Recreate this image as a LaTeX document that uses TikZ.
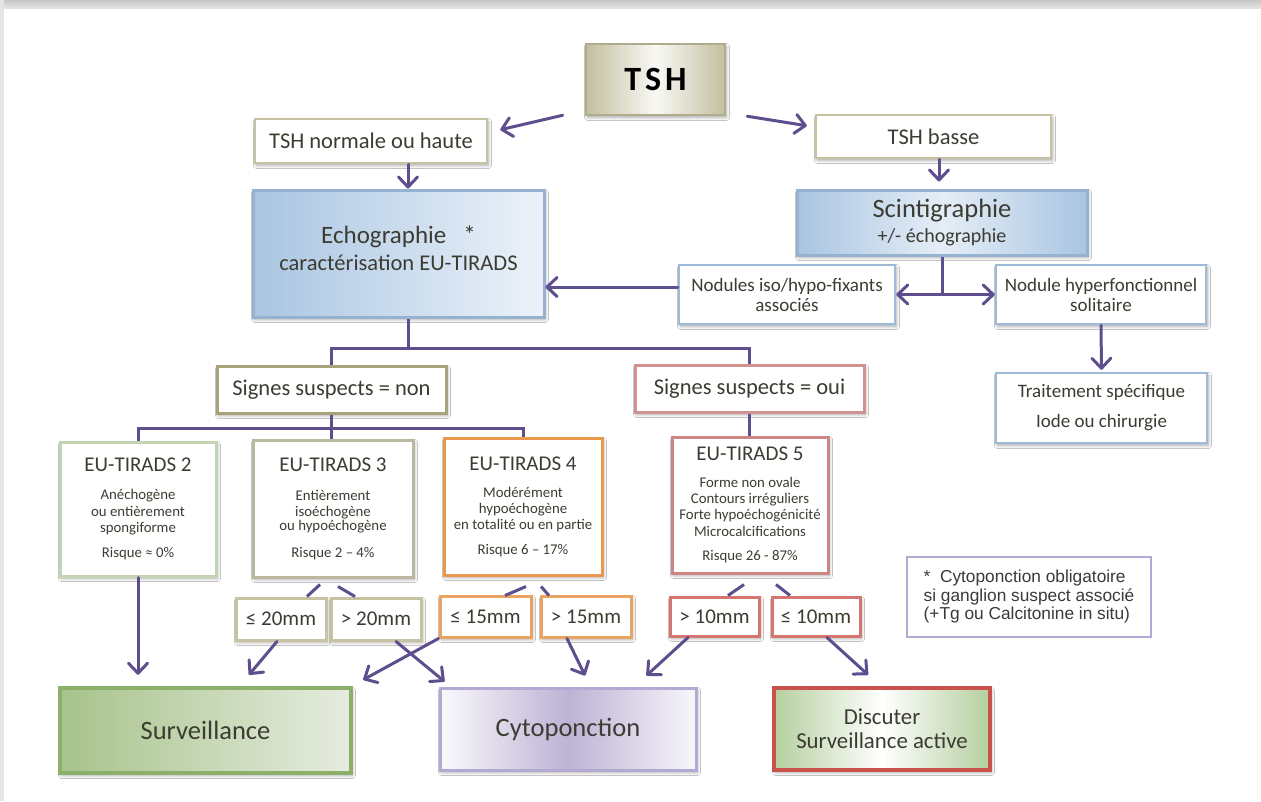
\documentclass[tikz,border=0pt]{standalone}
\usepackage{fontspec}
\setmainfont{Carlito}
\newfontfamily\notefont{Liberation Sans}
\usetikzlibrary{arrows.meta,shadows,shadows.blur,calc}
\definecolor{txtc}{HTML}{3C3C32}
\definecolor{arrc}{HTML}{5E4E8E}
\definecolor{begc}{HTML}{C6C3A0}
\definecolor{tanc}{HTML}{C3BF9E}
\definecolor{bluec}{HTML}{9DBBD9}
\definecolor{bluefill}{HTML}{A9C5E2}
\definecolor{olivec}{HTML}{A7A27A}
\definecolor{pinkc}{HTML}{D29191}
\definecolor{greenc}{HTML}{C3D4B2}
\definecolor{grayolc}{HTML}{BBB8A0}
\definecolor{orangec}{HTML}{E8994E}
\definecolor{redc}{HTML}{CC8686}
\definecolor{dredc}{HTML}{C9524C}
\definecolor{sgreenc}{HTML}{8CAF6A}
\definecolor{svfill}{HTML}{A7C38B}
\definecolor{svfill2}{HTML}{E6ECDF}
\definecolor{dgfill}{HTML}{B5CF9F}
\definecolor{lavc}{HTML}{B3A9D2}
\definecolor{cyfill}{HTML}{BDB3D5}
\definecolor{notetxt}{HTML}{3A3A3A}
\tikzset{
  box/.style={draw, line width=2.5pt, inner sep=0pt, align=center, text=txtc, fill=white,
    blur shadow={shadow xshift=1.5pt, shadow yshift=-2.5pt, shadow blur radius=3pt, shadow blur steps=6, shadow opacity=35}},
  fmain/.style={font=\fontsize{22.5}{27}\selectfont},
  fbody/.style={font=\fontsize{14.8}{16.3}\selectfont},
  fsize/.style={font=\fontsize{21}{25}\selectfont, line width=3pt},
  arr/.style={draw=arrc, line width=3pt, line cap=round, -{Straight Barb[length=10pt,width=19pt,round]}},
  arrtwo/.style={draw=arrc, line width=3pt, line cap=round, {Straight Barb[length=10pt,width=19pt,round]}-{Straight Barb[length=10pt,width=19pt,round]}},
  ln/.style={draw=arrc, line width=3pt},
}
\newcommand{\ttl}[1]{{\fontsize{21}{16.3}\selectfont #1}}
\begin{document}
\begin{tikzpicture}[x=1pt,y=-1pt]
\useasboundingbox (0,0) rectangle (1261,801);
\shade[top color=black!22, bottom color=black!8] (0,0) rectangle (1261,10);
\fill[black!10] (0,0) rectangle (4,801);
\fill[white] (4,9) rectangle (1261,801);

% top
\node[box, draw=tanc!90!black, left color=tanc, right color=tanc, middle color=white!90!tanc,
      minimum width=139, minimum height=71] (tsh) at (655.5,79.5)
      {\fontsize{34}{34}\selectfont\bfseries\color{black}T\kern4pt S\kern4pt H};
\node[box, fmain, draw=begc, minimum width=232, minimum height=44] (tshn) at (371,141) {TSH normale ou haute};
\node[box, fmain, draw=begc, minimum width=235, minimum height=43] (tshb) at (933.5,136.5) {TSH basse};

\node[box, draw=bluec!95!black, line width=3pt, left color=bluefill, right color=bluefill!22,
      minimum width=291, minimum height=127,
      label={[name=echot, fmain, align=center, text=txtc, yshift=5pt]center:{{\fontsize{25}{27}\selectfont Echographie\ \ \ *}\\ caractérisation EU-TIRADS}}] (echo) at (398.5,253.5) {};
\node[box, draw=bluec!95!black, line width=3pt, left color=bluefill, right color=bluefill, middle color=bluefill!30,
      minimum width=290, minimum height=65, font=\fontsize{20}{25}\selectfont] (scint) at (942,222.5)
      {{\fontsize{26.5}{25}\selectfont Scintigraphie}\\ +/- échographie};
\node[box, draw=bluec, font=\fontsize{19}{20}\selectfont, minimum width=216, minimum height=59] (iso) at (787,294.5)
      {Nodules iso/hypo-fixants\\ associés};
\node[box, draw=bluec, font=\fontsize{19}{20}\selectfont, minimum width=210, minimum height=59] (hyper) at (1101,294.5)
      {Nodule hyperfonctionnel\\ solitaire};
\node[box, draw=bluec, font=\fontsize{19}{30}\selectfont, minimum width=211, minimum height=70] (trait) at (1101.5,408)
      {Traitement spécifique\\ Iode ou chirurgie};

% signes
\node[box, fmain, draw=olivec, line width=3pt, minimum width=229, minimum height=47] (non) at (331.5,389.5) {Signes suspects = non};
\node[box, fmain, draw=pinkc, line width=3pt, minimum width=229, minimum height=47] (oui) at (749.5,388.5) {Signes suspects = oui};

% tirads
\node[box, fbody, draw=greenc, line width=3pt, minimum width=156, minimum height=134] (t2) at (138,509)
  {\ttl{EU-TIRADS 2}\\[12pt] Anéchogène\\ ou entièrement\\ spongiforme\\[9pt] Risque ≈ 0\%};
\node[box, fbody, draw=grayolc, line width=3pt, minimum width=160, minimum height=137] (t3) at (333,508.5)
  {\ttl{EU-TIRADS 3}\\[13pt] Entièrement\\ isoéchogène\\[-2pt] ou hypoéchogène\\[10pt] Risque 2 – 4\%};
\node[box, fbody, draw=orangec, line width=3pt, minimum width=158, minimum height=137] (t4) at (523,506.5)
  {\ttl{EU-TIRADS 4}\\[11pt] Modérément\\ hypoéchogène\\ en totalité ou en partie\\[8pt] Risque 6 – 17\%};
\node[box, fbody, draw=redc, line width=3pt, minimum width=156, minimum height=136] (t5) at (750,505)
  {\ttl{EU-TIRADS 5}\\[10pt] Forme non ovale\\ Contours irréguliers\\ Forte hypoéchogénicité\\ Microcalcifications\\[8pt] Risque 26 - 87\%};

% sizes
\node[box, fsize, draw=begc, minimum width=90, minimum height=42] (le20) at (281,619) {≤ 20mm};
\node[box, fsize, draw=begc, minimum width=90, minimum height=42] (gt20) at (376,619) {> 20mm};
\node[box, fsize, draw=orangec!90, minimum width=91, minimum height=41] (le15) at (485.5,616.5) {≤ 15mm};
\node[box, fsize, draw=orangec!90, minimum width=90, minimum height=41] (gt15) at (586,616.5) {> 15mm};
\node[box, fsize, draw=dredc!80, minimum width=89, minimum height=39] (gt10) at (714.5,616.5) {> 10mm};
\node[box, fsize, draw=dredc!80, minimum width=88, minimum height=39] (le10) at (816,616.5) {≤ 10mm};

% outcomes
\node[box, draw=sgreenc, line width=4.5pt, left color=svfill, right color=svfill2,
      font=\fontsize{26.5}{30}\selectfont, minimum width=291, minimum height=85] (surv) at (205.5,730.5) {Surveillance};
\node[box, draw=lavc, line width=3pt, left color=white!92!cyfill, right color=white!88!cyfill, middle color=cyfill,
      font=\fontsize{26.5}{30}\selectfont, minimum width=256, minimum height=82] (cyto) at (568,729) {Cytoponction};
\node[box, draw=dredc, line width=4.5pt, left color=dgfill, right color=dgfill, middle color=white,
      font=\fontsize{22.8}{24}\selectfont, minimum width=216, minimum height=82] (disc) at (882,729) {Discuter\\ Surveillance active};

% note
\node[draw=lavc, line width=2.5pt, inner sep=0pt, fill=white, align=left, text=notetxt,
      font=\notefont\fontsize{17.3}{18.5}\selectfont, minimum width=244, minimum height=80] (note) at (1029,597)
      {*\ \ Cytoponction obligatoire\\ si ganglion suspect associé\\ (+Tg ou Calcitonine in situ)};

% connectors top
\draw[arr] ([shift={(-22,-1)}]tsh.south west) -- ([shift={(12,12)}]tshn.north east);
\draw[arr] ([shift={(21,0)}]tsh.south east) -- ([shift={(-8,12)}]tshb.north west);
\coordinate (e1) at ([xshift=9.5pt]echo.north);
\draw[arr] (e1 |- tshn.south) -- (e1);
\draw[arr] ([xshift=5.5pt]tshb.south) -- ([shift={(-3,-7)}]scint.north);
\draw[ln] (scint.south) -- (scint.south |- iso.east);
\draw[arrtwo] (iso.east) -- (hyper.west);
\coordinate (i1) at ([shift={(0,-7.5)}]iso.west);
\draw[arr] (i1) -- (i1 -| echo.east);
\draw[arr] (hyper.south) -- ([shift={(0,-2)}]trait.north);

% tree
\coordinate (e2) at ([xshift=9.5pt]echo.south);
\draw[ln] (e2) -- ++(0,30) coordinate (j1);
\draw[ln] (non.north) |- (j1) -| (oui.north);
\draw[ln] (non.south) -- ++(0,14) coordinate (j2);
\draw[ln] (t2.north) |- (j2) -| (t4.north);
\draw[ln] (j2) -- (j2 |- t3.north);
\draw[ln] (oui.south) -- (oui.south |- t5.north);

% bottom
\coordinate (s1) at (t2.south |- surv.north);
\draw[arr] (t2.south) -- ([shift={(0,-11)}]s1);
\draw[ln] ([shift={(-13,6)}]t3.south) -- ([shift={(26,0)}]le20.north);
\draw[ln] ([shift={(5,8)}]t3.south) -- ([shift={(-21,0)}]gt20.north);
\draw[arr] ([shift={(-4,0)}]le20.south) -- ([shift={(43.5,-11)}]surv.north);
\draw[arr] ([shift={(20,0)}]gt20.south) -- ([shift={(6,-5)}]cyto.north west);
\draw[ln] ([shift={(3,10)}]t4.south) -- ([shift={(19.5,1)}]le15.north);
\draw[ln] ([shift={(18,10)}]t4.south) -- ([shift={(-37,1)}]gt15.north);
\draw[arr] (le15.south west) -- ([shift={(10,-6)}]surv.north east);
\draw[arr] ([shift={(-19,0)}]gt15.south) -- ([shift={(17,-11)}]cyto.north);
\draw[ln] ([shift={(-6,10)}]t5.south) -- ([shift={(13.5,0)}]gt10.north);
\draw[ln] ([shift={(26,10)}]t5.south) -- ([shift={(-26,0)}]le10.north);
\draw[arr] ([shift={(-26.5,0)}]gt10.south) -- ([shift={(-51,-11)}]cyto.north east);
\draw[arr] ([shift={(11,0)}]le10.south) -- ([shift={(-14,-11)}]disc.north);
\end{tikzpicture}
\end{document}
